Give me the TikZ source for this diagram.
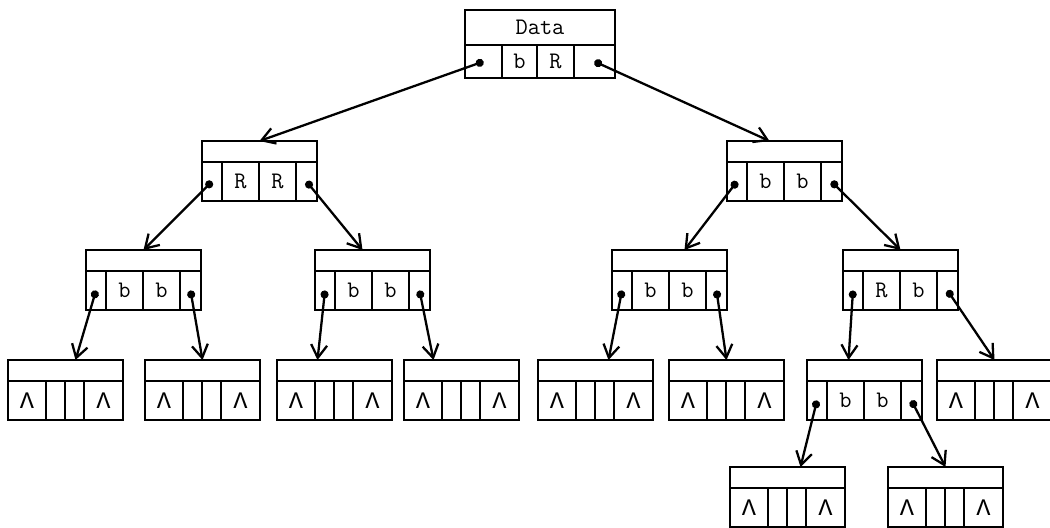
\documentclass[tikz,border=0pt]{standalone}
\usepackage{fontspec}
\newfontfamily\lamfont{Liberation Mono}
\usepackage{tikz}
\usetikzlibrary{arrows.meta,positioning}

% one record: data field on top, four cells below
\newcommand{\recnode}[4]{%
  \node[field] (#1) at (#2) {};
  \node[cell,minimum width=4mm,below right=0pt of #1.south west] (#1-lp) {};
  \node[cell,minimum width=7.4mm,right=0pt of #1-lp] (#1-a) {#3};
  \node[cell,minimum width=7.4mm,right=0pt of #1-a] (#1-b) {#4};
  \node[cell,minimum width=4.2mm,right=0pt of #1-b] (#1-rp) {};
}
% a record whose two links are nil
\newcommand{\nilnode}[2]{%
  \node[field] (#1) at (#2) {};
  \node[cell,minimum width=7.6mm,below right=0pt of #1.south west] (#1-lp) {\lamfont Λ};
  \node[cell,minimum width=3.8mm,right=0pt of #1-lp] (#1-a) {};
  \node[cell,minimum width=3.8mm,right=0pt of #1-a] (#1-b) {};
  \node[cell,minimum width=7.8mm,right=0pt of #1-b] (#1-rp) {\lamfont Λ};
}

\begin{document}
\begin{tikzpicture}[
  x=0.2mm,y=-0.2mm,
  font=\ttfamily\fontsize{13.5}{16}\selectfont,
  field/.style={draw,line width=1.6pt,anchor=north west,inner sep=0pt,outer sep=0pt,
                minimum width=23mm,minimum height=4.2mm},
  cell/.style={draw,line width=1.6pt,inner sep=0pt,outer sep=0pt,minimum height=7.8mm},
  ar/.style={{Circle[length=1.6mm]}-{Straight Barb[length=2.6mm,width=3.2mm]},line width=1.3pt}
]
\useasboundingbox (0,0) rectangle (1050,527);

% root
\node[field,minimum width=30mm,minimum height=7mm] (root) at (465,10) {Data};
\node[cell,minimum width=7.4mm,minimum height=6.6mm,below right=0pt of root.south west] (root-lp) {};
\node[cell,minimum width=7mm,minimum height=6.6mm,right=0pt of root-lp] (root-a) {b};
\node[cell,minimum width=7.4mm,minimum height=6.6mm,right=0pt of root-a] (root-b) {R};
\node[cell,minimum width=8.2mm,minimum height=6.6mm,right=0pt of root-b] (root-rp) {};

% level 1 and 2
\recnode{L}{202,141}{R}{R}
\recnode{R}{727,141}{b}{b}
\recnode{LL}{86,250}{b}{b}
\recnode{LR}{315,250}{b}{b}
\recnode{RL}{612,250}{b}{b}
\recnode{RR}{843,250}{R}{b}

% level 3
\nilnode{LLL}{8,360}
\nilnode{LLR}{145,360}
\nilnode{LRL}{277,360}
\nilnode{LRR}{404,360}
\nilnode{RLL}{538,360}
\nilnode{RLR}{669,360}
\recnode{RRL}{807,360}{b}{b}
\nilnode{RRR}{937,360}

% level 4
\nilnode{RRLL}{730,467}
\nilnode{RRLR}{888,467}

% links
\draw[ar] (root-lp.center) -- (L.north);
\draw[ar] (root-rp.center) -- ([xshift=-3mm]R.north);
\draw[ar] (L-lp.center) -- (LL.north);
\draw[ar] (L-rp.center) -- ([xshift=-2mm]LR.north);
\draw[ar] (R-lp.center) -- ([xshift=3mm]RL.north);
\draw[ar] (R-rp.center) -- (RR.north);
\draw[ar] (LL-lp.center) -- ([xshift=2mm]LLL.north);
\draw[ar] (LL-rp.center) -- (LLR.north);
\draw[ar] (LR-lp.center) -- ([xshift=-3.4mm]LRL.north);
\draw[ar] (LR-rp.center) -- ([xshift=-5.6mm]LRR.north);
\draw[ar] (RL-lp.center) -- ([xshift=2.6mm]RLL.north);
\draw[ar] (RL-rp.center) -- (RLR.north);
\draw[ar] (RR-lp.center) -- ([xshift=-3.2mm]RRL.north);
\draw[ar] (RR-rp.center) -- (RRR.north);
\draw[ar] (RRL-lp.center) -- ([xshift=2.6mm]RRLL.north);
\draw[ar] (RRL-rp.center) -- (RRLR.north);
\end{tikzpicture}
\end{document}
